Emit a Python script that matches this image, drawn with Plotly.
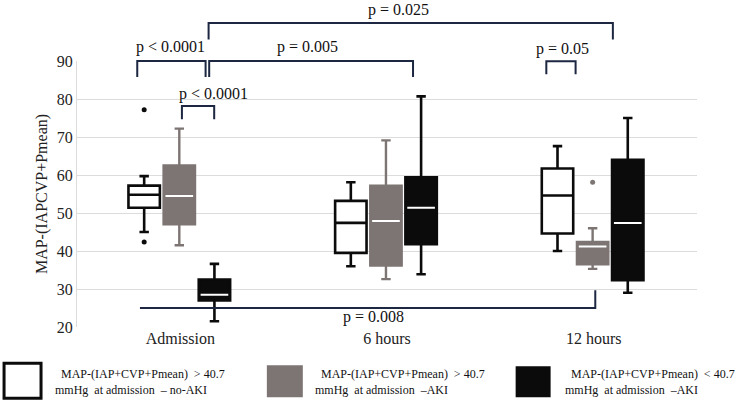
import plotly.graph_objects as go

# ---------------- data ----------------
groups = ["Admission", "6 hours", "12 hours"]
series_names = [
    "MAP-(IAP+CVP+Pmean) > 40.7 mmHg at admission – no-AKI",
    "MAP-(IAP+CVP+Pmean) > 40.7 mmHg at admission – AKI",
    "MAP-(IAP+CVP+Pmean) < 40.7 mmHg at admission – AKI",
]
noaki_low = [45.0, 36.0, 40.0]
noaki_q1 = [51.4, 39.5, 44.6]
noaki_med = [54.8, 47.4, 54.6]
noaki_q3 = [57.2, 53.2, 61.7]
noaki_high = [59.7, 58.1, 67.6]

aki_hi_low = [41.5, 32.6, 35.3]
aki_hi_q1 = [47.0, 36.2, 36.5]
aki_hi_med = [54.5, 47.9, 41.2]
aki_hi_q3 = [62.5, 57.2, 42.4]
aki_hi_high = [72.2, 69.1, 46.0]

aki_lo_low = [21.5, 33.9, 29.0]
aki_lo_q1 = [27.0, 41.8, 32.3]
aki_lo_med = [28.5, 51.4, 47.4]
aki_lo_q3 = [32.5, 59.4, 64.0]
aki_lo_high = [36.6, 80.7, 75.0]

noaki_outlier_group = [0, 0]
noaki_outliers = [77.2, 42.4]
aki_hi_outlier_group = [2]
aki_hi_outliers = [58.1]

y_ticks = [20, 30, 40, 50, 60, 70, 80, 90]

# ---------------- layout helpers ----------------
W, H = 750, 401
L, R, T, B = 77, 52.5, 60.7, 74.3
PW, PH = W - L - R, H - T - B
FONT = "Liberation Serif"

def px_x(px):
    return (px - L) / PW

def px_y(py):
    return (H - B - py) / PH

offsets = [-0.175, -0.005, 0.165]
box_w = 0.152
gray = "#7d7573"
black = "#0b0b0b"

fig = go.Figure()

def add_box(idx, low, q1, med, q3, high, fill, line_col, lw):
    xs = [i + offsets[idx] for i in range(len(groups))]
    fig.add_trace(go.Box(
        x=xs, q1=q1, median=med, q3=q3, lowerfence=low, upperfence=high,
        width=box_w, fillcolor=fill, line=dict(color=line_col, width=lw),
        whiskerwidth=0.3, orientation="v", name=series_names[idx],
        showlegend=False, boxpoints=False,
    ))
    return xs

xs0 = add_box(0, noaki_low, noaki_q1, noaki_med, noaki_q3, noaki_high, "white", black, 2.6)
xs1 = add_box(1, aki_hi_low, aki_hi_q1, aki_hi_med, aki_hi_q3, aki_hi_high, gray, gray, 2.4)
xs2 = add_box(2, aki_lo_low, aki_lo_q1, aki_lo_med, aki_lo_q3, aki_lo_high, black, black, 2.6)

# white median lines for the filled boxes
for xs, med in [(xs1, aki_hi_med), (xs2, aki_lo_med)]:
    fig.add_trace(go.Box(
        x=xs, q1=med, median=med, q3=med, lowerfence=med, upperfence=med,
        width=box_w * 0.88, fillcolor="rgba(0,0,0,0)",
        line=dict(color="white", width=2), whiskerwidth=0,
        orientation="v", showlegend=False, hoverinfo="skip",
    ))

# outliers
fig.add_trace(go.Scatter(
    x=[g + offsets[0] for g in noaki_outlier_group], y=noaki_outliers,
    mode="markers", marker=dict(color=black, size=5), showlegend=False))
fig.add_trace(go.Scatter(
    x=[g + offsets[1] for g in aki_hi_outlier_group], y=aki_hi_outliers,
    mode="markers", marker=dict(color=gray, size=5), showlegend=False))

# ---------------- significance brackets ----------------
bcol = "#1d2742"
brackets = [
    # x-left px, x-right px, bar y px, leg end y px, label, label x px, label y px
    (208.7, 613.3, 22.7, 39.3, "p = 0.025", 399, 10),
    (137.3, 205.7, 60.7, 76.7, "p < 0.0001", 171, 47),
    (209.3, 413.3, 60.7, 76.7, "p = 0.005", 308, 47),
    (546.7, 576.0, 61.0, 74.0, "p = 0.05", 563, 49),
    (182.0, 214.3, 105.7, 119.0, "p < 0.0001", 214, 94),
]
shapes = []
annotations = []
for xl, xr, yb, yl, lab, tx, ty in brackets:
    shapes.append(dict(
        type="path", xref="paper", yref="paper",
        path=f"M {px_x(xl)},{px_y(yl)} L {px_x(xl)},{px_y(yb)} L {px_x(xr)},{px_y(yb)} L {px_x(xr)},{px_y(yl)}",
        line=dict(color=bcol, width=2)))
    annotations.append(dict(
        x=px_x(tx), y=px_y(ty), xref="paper", yref="paper", text=lab,
        showarrow=False, font=dict(family=FONT, size=16, color="#111"),
        xanchor="center", yanchor="middle"))

# bottom bracket p = 0.008
shapes.append(dict(
    type="path", xref="paper", yref="paper",
    path=f"M {px_x(140)},{px_y(307.7)} L {px_x(595.7)},{px_y(307.7)} L {px_x(595.7)},{px_y(290)}",
    line=dict(color=bcol, width=2)))
annotations.append(dict(
    x=px_x(374), y=px_y(316.5), xref="paper", yref="paper", text="p = 0.008",
    showarrow=False, font=dict(family=FONT, size=16, color="#111"),
    xanchor="center", yanchor="middle"))

# ---------------- custom legend ----------------
legend_items = [
    (4, 41, 363, 398, "white", black, 3,
     "&nbsp;&nbsp;MAP-(IAP+CVP+Pmean)&nbsp;&nbsp;&gt; 40.7<br>mmHg&nbsp;&nbsp;at admission&nbsp;&nbsp;– no-AKI", 53),
    (267, 303, 365, 397, gray, gray, 0,
     "&nbsp;&nbsp;MAP-(IAP+CVP+Pmean)&nbsp;&nbsp;&gt; 40.7<br>mmHg&nbsp;&nbsp;at admission&nbsp;&nbsp;–AKI", 313),
    (516, 551, 366, 397, black, black, 0,
     "&nbsp;&nbsp;MAP-(IAP+CVP+Pmean)&nbsp;&nbsp;&lt; 40.7<br>mmHg&nbsp;&nbsp;at admission&nbsp;&nbsp;–AKI", 563),
]
for x0, x1, y0, y1, fc, lc, lw, txt, tx in legend_items:
    shapes.append(dict(
        type="rect", xref="paper", yref="paper",
        x0=px_x(x0), x1=px_x(x1), y0=px_y(y1), y1=px_y(y0),
        fillcolor=fc, line=dict(color=lc, width=lw)))
    annotations.append(dict(
        x=px_x(tx), y=px_y(382), xref="paper", yref="paper", text=txt,
        showarrow=False, align="left", xanchor="left", yanchor="middle",
        font=dict(family=FONT, size=12, color="#111")))

fig.update_layout(
    width=W, height=H,
    margin=dict(l=L, r=R, t=T, b=B, autoexpand=False),
    paper_bgcolor="white", plot_bgcolor="white",
    boxmode="overlay",
    shapes=shapes, annotations=annotations,
    font=dict(family=FONT, size=16, color="#222"),
    xaxis=dict(
        range=[-0.5, 2.5], tickmode="array", tickvals=list(range(len(groups))),
        ticktext=groups, showgrid=False, zeroline=False, showline=False,
        ticks="", tickfont=dict(family=FONT, size=16, color="#222"),
    ),
    yaxis=dict(
        range=[20, 90], tickmode="array", tickvals=y_ticks,
        showgrid=True, gridcolor="#dcdcdc", gridwidth=1,
        zeroline=False, showline=True, linecolor="#dcdcdc", linewidth=1,
        ticks="", tickfont=dict(family=FONT, size=16, color="#222"),
        title=dict(text="MAP-(IAPCVP+Pmean)", font=dict(family=FONT, size=16, color="#222"), standoff=5),
    ),
)

fig.write_html("out.html", config={"displayModeBar": False},
               post_script="document.body.style.margin='0px';")
